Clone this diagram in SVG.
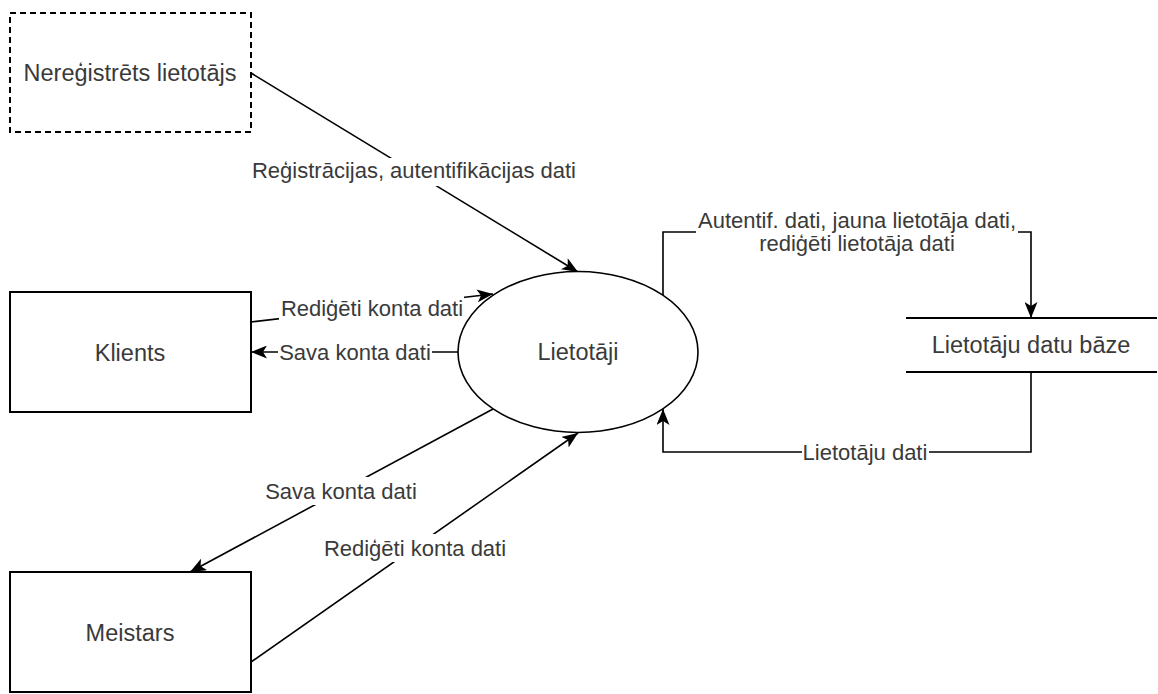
<svg xmlns="http://www.w3.org/2000/svg" width="1158" height="694" viewBox="0 0 1158 694">
  <style>
    .box { fill: #ffffff; stroke: #000000; stroke-width: 2; }
    .dashed { stroke-dasharray: 6 4; }
    .store { fill: none; stroke: #000000; stroke-width: 2; }
    .edge { fill: none; stroke: #000000; stroke-width: 1.6; }
    .node-text { font-family: "Liberation Sans", Arial, sans-serif; font-size: 23.5px; fill: #3a3a3a; text-anchor: middle; }
    .label { font-family: "Liberation Sans", Arial, sans-serif; font-size: 22px; fill: #3a3a3a; text-anchor: middle; }
    .label-bg { fill: #ffffff; }
  </style>
  <defs>
    <marker id="arrow" markerUnits="userSpaceOnUse" markerWidth="16" markerHeight="13" viewBox="0 0 16 13" refX="16" refY="6.5" orient="auto">
      <path d="M0,0 L16,6.5 L0,13 L4,6.5 Z" fill="#000000"/>
    </marker>
  </defs>
  <rect width="1158" height="694" fill="#ffffff"/>

  <!-- connectors -->
  <g id="connectors">
    <!-- unregistered user -> users process -->
    <line class="edge" x1="251" y1="73" x2="578" y2="272" marker-end="url(#arrow)"/>
    <!-- client -> users process -->
    <line class="edge" x1="251" y1="322" x2="493" y2="294" marker-end="url(#arrow)"/>
    <!-- users process -> client -->
    <line class="edge" x1="458" y1="352" x2="251" y2="352" marker-end="url(#arrow)"/>
    <!-- users process -> master -->
    <line class="edge" x1="493" y1="409" x2="190" y2="572" marker-end="url(#arrow)"/>
    <!-- master -> users process -->
    <line class="edge" x1="251" y1="662" x2="578" y2="433" marker-end="url(#arrow)"/>
    <!-- users process -> user database -->
    <polyline class="edge" points="663,296 663,232 1031,232 1031,318" marker-end="url(#arrow)"/>
    <!-- user database -> users process -->
    <polyline class="edge" points="1031,372 1031,452 663,452 663,409" marker-end="url(#arrow)"/>

    <!-- edge labels -->
    <rect class="label-bg" x="251" y="158" width="326" height="28"/>
    <text class="label" x="414" y="178">Reģistrācijas, autentifikācijas dati</text>

    <rect class="label-bg" x="279" y="295" width="185" height="26"/>
    <text class="label" x="372" y="316">Rediģēti konta dati</text>

    <rect class="label-bg" x="278" y="339" width="154" height="26"/>
    <text class="label" x="355" y="360">Sava konta dati</text>

    <rect class="label-bg" x="264" y="477" width="155" height="28"/>
    <text class="label" x="341" y="499">Sava konta dati</text>

    <rect class="label-bg" x="323" y="534" width="185" height="28"/>
    <text class="label" x="415" y="556">Rediģēti konta dati</text>

    <rect class="label-bg" x="696" y="210" width="322" height="48"/>
    <text class="label" x="857" y="228">Autentif. dati, jauna lietotāja dati,</text>
    <text class="label" x="857" y="251">rediģēti lietotāja dati</text>

    <rect class="label-bg" x="802" y="440" width="127" height="26"/>
    <text class="label" x="865" y="460">Lietotāju dati</text>
  </g>

  <!-- external entity: unregistered user -->
  <g id="nereg-lietotajs">
    <rect class="box dashed" x="10" y="13" width="241" height="119"/>
    <text class="node-text" x="130" y="81">Nereģistrēts lietotājs</text>
  </g>

  <!-- external entity: client -->
  <g id="klients">
    <rect class="box" x="10" y="292" width="241" height="120"/>
    <text class="node-text" x="130" y="361">Klients</text>
  </g>

  <!-- external entity: master -->
  <g id="meistars">
    <rect class="box" x="10" y="572" width="241" height="120"/>
    <text class="node-text" x="130" y="641">Meistars</text>
  </g>

  <!-- process: users -->
  <g id="lietotaji">
    <ellipse cx="578" cy="352" rx="120" ry="80.5" fill="#ffffff" stroke="#000000" stroke-width="1.6"/>
    <text class="node-text" x="578" y="360">Lietotāji</text>
  </g>

  <!-- data store: user database -->
  <g id="lietotaju-datu-baze">
    <line class="store" x1="906" y1="318" x2="1157" y2="318"/>
    <line class="store" x1="906" y1="372" x2="1157" y2="372"/>
    <text class="node-text" x="1031" y="353">Lietotāju datu bāze</text>
  </g>
</svg>
